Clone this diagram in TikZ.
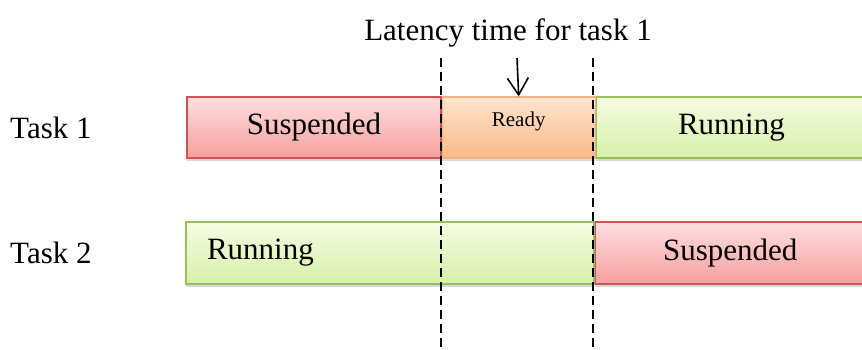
\documentclass[tikz,border=0pt]{standalone}
\usepackage{fontspec}
\setmainfont{Liberation Serif}
\usetikzlibrary{arrows.meta,positioning,shadows}

\definecolor{suspTop}{RGB}{255,222,222}
\definecolor{suspBot}{RGB}{246,160,160}
\definecolor{suspLine}{RGB}{205,85,85}
\definecolor{runTop}{RGB}{246,252,228}
\definecolor{runBot}{RGB}{214,240,168}
\definecolor{runLine}{RGB}{150,192,90}
\definecolor{readyTop}{RGB}{255,228,206}
\definecolor{readyBot}{RGB}{250,186,136}
\definecolor{readyLine}{RGB}{240,178,130}

\begin{document}
\begin{tikzpicture}[x=1pt,y=-1pt,>={Straight Barb[length=17pt,width=21pt]},
                    font=\fontsize{31}{37}\selectfont,
                    bar/.style={minimum height=61pt,inner sep=0pt,line width=1.2pt,
                      drop shadow={shadow xshift=0pt,shadow yshift=-3pt,opacity=0.3}},
                    suspended/.style={bar,draw=suspLine,top color=suspTop,bottom color=suspBot},
                    running/.style={bar,draw=runLine,top color=runTop,bottom color=runBot},
                    ready/.style={bar,draw=readyLine,top color=readyTop,bottom color=readyBot},
                    marker/.style={line width=1.6pt,dash pattern=on 9pt off 5pt}]
%  \tikzstyle{bar}=[draw,minimum height=61pt]
  \useasboundingbox (0,0) rectangle (862,349);
  \clip (0,0) rectangle (862,349);

  \node[inner sep=0pt,anchor=base] (title) at (508,40) {Latency time for task 1};

  \node[inner sep=0pt,anchor=west] (task1) at (10,127.5) {Task 1};
  \node[inner sep=0pt,anchor=west] (task2) at (10,253) {Task 2};

  \node[suspended,minimum width=254pt] (susp1) at (314,127.5) {Suspended};
  \node[ready,minimum width=153pt]     (ready1) [right=0pt of susp1]
        {};
  \node[inner sep=0pt,anchor=north,font=\fontsize{21}{25}\selectfont]
        (readytxt) at ([yshift=-15pt]ready1.north) {Ready};
  \node[running,minimum width=270pt]   (run1) [right=0pt of ready1] {Running};

  \node[running,minimum width=408pt,minimum height=62pt,text width=366pt,
        inner xsep=21pt,align=left]    (run2) at (390,253) {Running};
  \node[suspended,minimum width=270pt,minimum height=62pt]
                                       (susp2) [right=0pt of run2] {Suspended};

  \coordinate (d1top) at (441,58);
  \coordinate (d1bot) at (441,349);
  \coordinate (d2top) at (593,58);
  \coordinate (d2bot) at (593,349);
  \coordinate (arrtop) at (517,58);

  \draw[marker] (d1top) -- (d1bot);
  \draw[marker] (d2top) -- (d2bot);
  \draw[->,line width=1.6pt] (arrtop) -- (ready1.north);

\end{tikzpicture}
\end{document}
